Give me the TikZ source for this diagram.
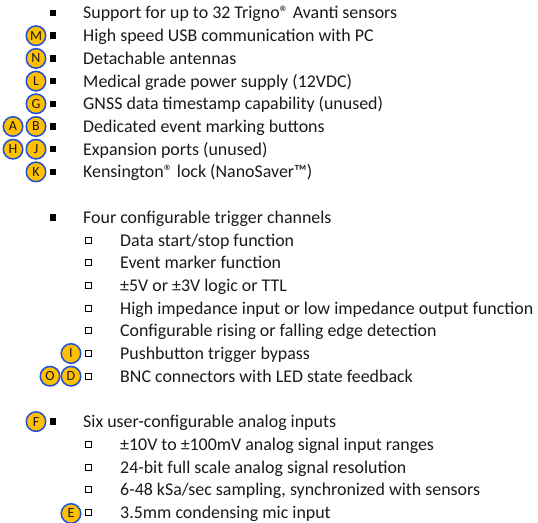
\documentclass[tikz,border=0pt]{standalone}
\usepackage{fontspec}
\setmainfont{Carlito}
\definecolor{badgefill}{HTML}{FFC000}
\definecolor{badgeline}{HTML}{1F4FD8}
\definecolor{txt}{HTML}{1A1A1A}
\begin{document}
\begin{tikzpicture}[x=1pt,y=-1pt,
  item/.style={anchor=base west,inner sep=0pt,text=txt,font=\fontsize{17.9}{21}\selectfont,yshift=-6pt},
  bulA/.style={fill=black,minimum size=6.5pt,inner sep=0pt,draw=none,rectangle},
  bulB/.style={draw=black,line width=0.8pt,fill=white,minimum size=6pt,inner sep=0pt,rectangle},
  badge/.style={circle,fill=badgefill,draw=badgeline,line width=1.5pt,minimum size=19.5pt,inner sep=0pt,text=txt,font=\fontsize{14}{15}\selectfont}]
\useasboundingbox (0,0) rectangle (538,522);
% level 1 block
\node[bulA] (b0) at (53,13.0) {};  \node[item] (t0) at (83,13.0) {Support for up to 32 Trigno® Avanti sensors};
\node[bulA] (b1) at (53,35.7) {};  \node[item] (t1) at (83,35.7) {High speed USB communication with PC};
\node[bulA] (b2) at (53,58.4) {};  \node[item] (t2) at (83,58.4) {Detachable antennas};
\node[bulA] (b3) at (53,81.1) {};  \node[item] (t3) at (83,81.1) {Medical grade power supply (12VDC)};
\node[bulA] (b4) at (53,103.8) {}; \node[item] (t4) at (83,103.8) {GNSS data timestamp capability (unused)};
\node[bulA] (b5) at (53,126.5) {}; \node[item] (t5) at (83,126.5) {Dedicated event marking buttons};
\node[bulA] (b6) at (53,149.2) {}; \node[item] (t6) at (83,149.2) {Expansion ports (unused)};
\node[bulA] (b7) at (53,171.9) {}; \node[item] (t7) at (83,171.9) {Kensington® lock (NanoSaver™)};
\node[badge] (M) at (36,35.7) {M};
\node[badge] (N) at (36,58.4) {N};
\node[badge] (L) at (36,81.1) {L};
\node[badge] (G) at (36,103.8) {G};
\node[badge] (A) at (13,126.5) {A};
\node[badge] (B) at (36,126.5) {B};
\node[badge] (H) at (13,149.2) {H};
\node[badge] (J) at (36,149.2) {J};
\node[badge] (K) at (36,171.9) {K};
% trigger block
\node[bulA] (b9) at (53,217.3) {}; \node[item] (t9) at (83,217.3) {Four configurable trigger channels};
\node[bulB] (b10) at (88,240.0) {}; \node[item] (t10) at (120,240.0) {Data start/stop function};
\node[bulB] (b11) at (88,262.7) {}; \node[item] (t11) at (120,262.7) {Event marker function};
\node[bulB] (b12) at (88,285.4) {}; \node[item] (t12) at (120,285.4) {±5V or ±3V logic or TTL};
\node[bulB] (b13) at (88,308.1) {}; \node[item] (t13) at (120,308.1) {High impedance input or low impedance output function};
\node[bulB] (b14) at (88,330.8) {}; \node[item] (t14) at (120,330.8) {Configurable rising or falling edge detection};
\node[bulB] (b15) at (88,353.5) {}; \node[item] (t15) at (120,353.5) {Pushbutton trigger bypass};
\node[bulB] (b16) at (88,376.2) {}; \node[item] (t16) at (120,376.2) {BNC connectors with LED state feedback};
\node[badge] (I) at (71,353.5) {I};
\node[badge] (O) at (50,376.2) {O};
\node[badge] (D) at (71,376.2) {D};
% analog block
\node[bulA] (b18) at (53,421.6) {}; \node[item] (t18) at (83,421.6) {Six user-configurable analog inputs};
\node[bulB] (b19) at (88,444.3) {}; \node[item] (t19) at (120,444.3) {±10V to ±100mV analog signal input ranges};
\node[bulB] (b20) at (88,467.0) {}; \node[item] (t20) at (120,467.0) {24-bit full scale analog signal resolution};
\node[bulB] (b21) at (88,489.7) {}; \node[item] (t21) at (120,489.7) {6-48 kSa/sec sampling, synchronized with sensors};
\node[bulB] (b22) at (88,512.4) {}; \node[item] (t22) at (120,512.4) {3.5mm condensing mic input};
\node[badge] (F) at (36,421.6) {F};
\node[badge] (E) at (71,513.5) {E};
\end{tikzpicture}
\end{document}
